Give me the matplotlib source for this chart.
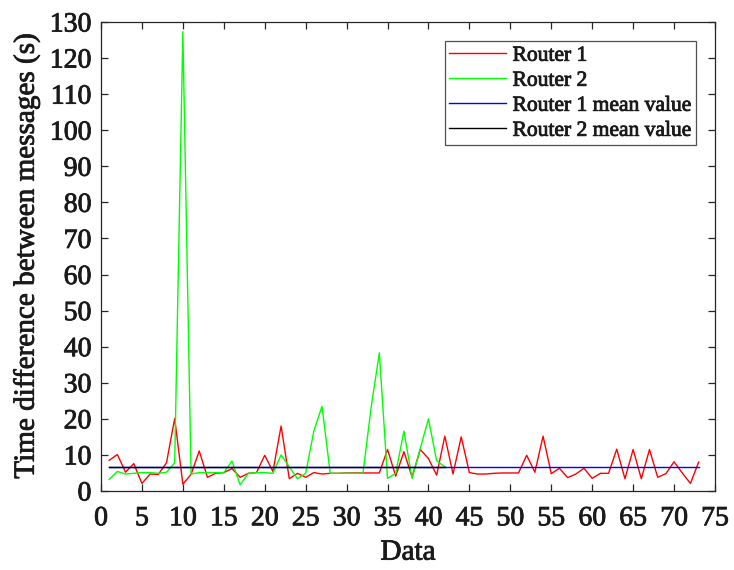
import matplotlib
matplotlib.use("Agg")
import matplotlib.pyplot as plt
import matplotlib.patheffects as pe
import numpy as np

# time difference between messages
router1 = [8.5, 10.1, 5.2, 7.6, 2.1, 4.7, 4.6, 7.8, 20.1, 1.9,
           4.6, 11.1, 3.8, 4.9, 5.1, 6.2, 3.8, 4.9, 5.1, 9.9,
           5.4, 18.0, 3.4, 4.9, 3.8, 5.1, 4.7, 4.9, 4.9, 5.0,
           5.0, 5.0, 5.0, 5.0, 11.5, 4.1, 10.9, 3.9, 11.5, 9.0,
           4.4, 15.2, 4.7, 15.0, 5.1, 4.7, 4.7, 4.9, 5.0, 5.0,
           5.0, 9.9, 5.2, 15.2, 4.8, 6.3, 3.7, 4.7, 6.3, 3.5,
           4.9, 4.9, 11.6, 3.4, 11.5, 3.4, 11.5, 3.8, 4.8, 8.1,
           5.0, 2.1, 8.0]
router2 = [3.2, 5.4, 4.7, 4.9, 5.1, 5.1, 4.9, 5.2, 7.8, 127.3,
           4.7, 5.1, 5.1, 5.1, 5.1, 8.3, 1.7, 4.9, 5.1, 5.1,
           4.9, 10.0, 6.7, 3.4, 4.9, 16.6, 23.5, 4.9, 4.9, 4.9,
           4.9, 4.9, 23.2, 38.3, 3.5, 4.9, 16.6, 3.5, 11.8, 20.0,
           8.4, 6.7]
router1_mean = 6.55
router2_mean = 6.55

series_labels = ["Router 1", "Router 2", "Router 1 mean value", "Router 2 mean value"]
x_ticks = list(range(0, 80, 5))
y_ticks = list(range(0, 140, 10))

plt.rcParams["font.family"] = ["Liberation Serif", "DejaVu Serif"]

x1 = np.arange(1, len(router1) + 1)
x2 = np.arange(1, len(router2) + 1)

fig = plt.figure(figsize=(7.34, 5.70), dpi=100)
ax = fig.add_axes([0.1376, 0.1386, 0.8365, 0.8228])

ax.plot(x1, router1, color="#ff0000", lw=1.0, label=series_labels[0])
ax.plot(x2, router2, color="#00ff00", lw=1.0, label=series_labels[1])
ax.plot([x1[0], x1[-1]], [router1_mean, router1_mean], color="#0000ff", lw=1.0, label=series_labels[2])
ax.plot([x2[0], x2[-1]], [router2_mean, router2_mean], color="black", lw=1.0, label=series_labels[3])

ax.set_xlim(0, 75)
ax.set_ylim(0, 130)
ax.set_xticks(x_ticks)
ax.set_yticks(y_ticks)

dark = "#262626"
txt = "#1a1a1a"
heavy = [pe.withStroke(linewidth=0.6, foreground=txt)]

for s in ax.spines.values():
    s.set_color(dark)
    s.set_linewidth(0.9)
ax.tick_params(direction="in", top=True, right=True, length=5, width=0.9,
               colors=dark, labelsize=20, pad=7)
ax.tick_params(axis="x", pad=11)
for lab in ax.get_xticklabels() + ax.get_yticklabels():
    lab.set_color(txt)
    lab.set_path_effects(heavy)

ax.set_xlabel("Data", fontsize=21, color=txt, labelpad=6, path_effects=heavy)
ax.set_ylabel("Time difference between messages (s)", fontsize=21, color=txt,
              labelpad=7, path_effects=heavy)

leg = ax.legend(loc="upper right", fontsize=15.5, frameon=True, fancybox=False,
                edgecolor=dark, handlelength=2.65, handletextpad=0.3,
                borderpad=0.2, labelspacing=0.23, borderaxespad=0.9)
leg.get_frame().set_linewidth(0.9)
for t in leg.get_texts():
    t.set_color(txt)
    t.set_path_effects(heavy)

fig.savefig("out.png", dpi=100)
